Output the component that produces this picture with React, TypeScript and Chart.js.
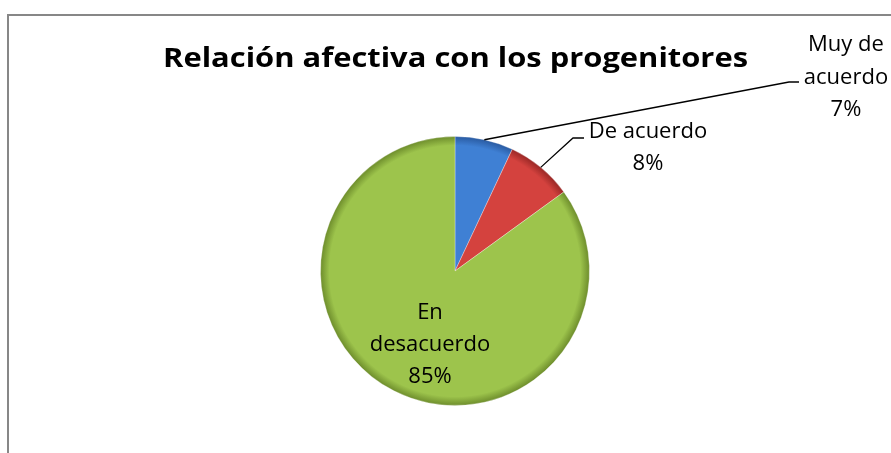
import React, { useEffect, useRef } from "react";
import { Chart, registerables } from "chart.js";

Chart.register(...registerables);

const TITLE = "Relación afectiva con los progenitores";
const categories = ["Muy de acuerdo", "De acuerdo", "En desacuerdo"];
const values = [7, 8, 85];
const labelLines = [["Muy de", "acuerdo", "7%"], ["De acuerdo", "8%"], ["En", "desacuerdo", "85%"]];
const baseColors = ["#3F80D4", "#D4423E", "#9DC44C"];
const rimColors = ["#28589E", "#962624", "#6B8A2A"];

const W = 891;
const H = 453;

export default function App() {
  const ref = useRef<HTMLCanvasElement | null>(null);
  useEffect(() => {
    const canvas = ref.current!;
    const labelPlugin = {
      id: "custom",
      beforeDraw(chart: any) {
        const ctx = chart.ctx;
        ctx.save();
        ctx.fillStyle = "#ffffff";
        ctx.fillRect(0, 0, W, H);
        ctx.strokeStyle = "#878787";
        ctx.lineWidth = 2;
        ctx.strokeRect(8, 15, W + 20, H + 20);
        ctx.fillStyle = "#000";
        ctx.font = "bold 26px 'Open Sans'";
        ctx.textBaseline = "alphabetic";
        const tw = ctx.measureText(TITLE).width;
        ctx.translate(163, 67);
        ctx.scale(585 / tw, 1);
        ctx.fillText(TITLE, 0, 0);
        ctx.restore();
      },
      afterDatasetsDraw(chart: any) {
        const ctx = chart.ctx;
        const meta = chart.getDatasetMeta(0);
        ctx.save();
        ctx.strokeStyle = "#000";
        ctx.lineWidth = 1.3;
        const edge = (i: number) => {
          const a: any = meta.data[i];
          const mid = (a.startAngle + a.endAngle) / 2;
          return [a.x + Math.cos(mid) * a.outerRadius, a.y + Math.sin(mid) * a.outerRadius];
        };
        let p = edge(0);
        ctx.beginPath();
        ctx.moveTo(p[0], p[1]);
        ctx.lineTo(789, 82);
        ctx.lineTo(799, 82);
        ctx.stroke();
        p = edge(1);
        ctx.beginPath();
        ctx.moveTo(p[0], p[1]);
        ctx.lineTo(573, 138);
        ctx.lineTo(584, 138);
        ctx.stroke();

        ctx.fillStyle = "#000";
        ctx.font = "22px 'Open Sans'";
        ctx.textAlign = "center";
        ctx.textBaseline = "alphabetic";
        const drawLines = (lines: string[], cx: number, y0: number, lh: number) => {
          lines.forEach((t, k) => ctx.fillText(t, cx, y0 + k * lh));
        };
        drawLines(labelLines[0], 846, 51, 32.5);
        drawLines(labelLines[1], 648, 138, 32);
        drawLines(labelLines[2], 430, 319, 32);
        ctx.restore();
      },
    };

    const chart = new Chart(canvas, {
      type: "pie",
      data: {
        labels: categories,
        datasets: [
          {
            data: values,
            backgroundColor: (c: any) => {
              const i = c.dataIndex;
              const chartArea = c.chart.chartArea;
              if (!chartArea) return baseColors[i];
              const cx = (chartArea.left + chartArea.right) / 2;
              const cy = (chartArea.top + chartArea.bottom) / 2;
              const r = Math.min(chartArea.right - chartArea.left, chartArea.bottom - chartArea.top) / 2;
              const g = c.chart.ctx.createRadialGradient(cx, cy, 0, cx, cy, r);
              g.addColorStop(0, baseColors[i]);
              g.addColorStop(0.93, baseColors[i]);
              g.addColorStop(1, rimColors[i]);
              return g;
            },
            borderColor: "rgba(255,255,255,0.3)",
            borderWidth: 1,
          },
        ],
      },
      options: {
        responsive: false,
        animation: false,
        rotation: 0,
        layout: { padding: { left: 320, right: 301, top: 136, bottom: 47 } },
        plugins: {
          legend: { display: false },
          title: { display: false },
          tooltip: { enabled: false },
        },
      },
      plugins: [labelPlugin],
    });
    return () => chart.destroy();
  }, []);

  return (
    <div style={{ position: "absolute", left: 0, top: 0, width: W, height: H, overflow: "hidden" }}>
      <canvas ref={ref} width={W} height={H} style={{ display: "block" }} />
    </div>
  );
}
